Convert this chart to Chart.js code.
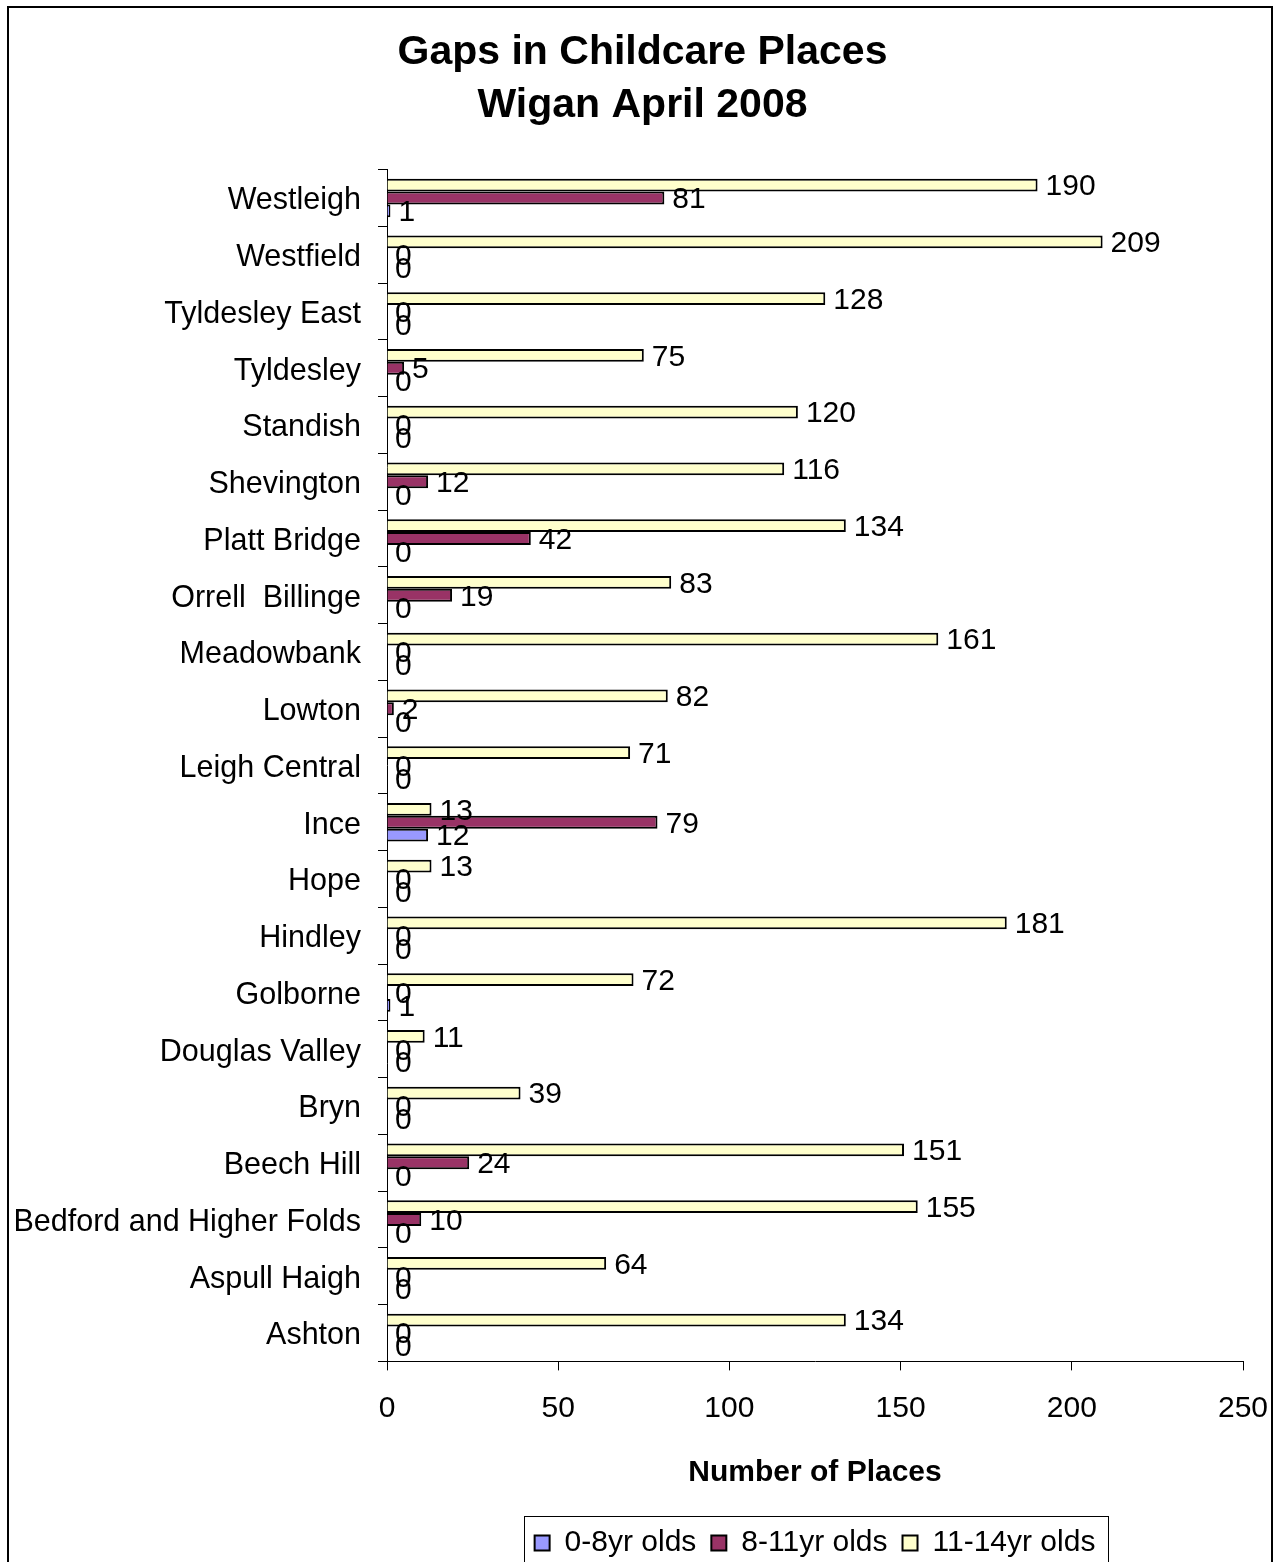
<!DOCTYPE html>
<html>
<head>
<meta charset="utf-8">
<title>Gaps in Childcare Places - Wigan April 2008</title>
<script src="https://cdn.jsdelivr.net/npm/chart.js@4.4.1/dist/chart.umd.min.js"></script>
<style>
  html, body { margin: 0; padding: 0; overflow: hidden; background: #fff; }
  #wrap { width: 1285px; height: 1583px; }
  canvas { display: block; }
</style>
</head>
<body>
<div id="wrap"><canvas id="chart" width="1285" height="1583"></canvas></div>
<script>
// Areas, listed top to bottom
const categories = [
  'Westleigh', 'Westfield', 'Tyldesley East', 'Tyldesley', 'Standish',
  'Shevington', 'Platt Bridge', 'Orrell  Billinge', 'Meadowbank', 'Lowton',
  'Leigh Central', 'Ince', 'Hope', 'Hindley', 'Golborne', 'Douglas Valley',
  'Bryn', 'Beech Hill', 'Bedford and Higher Folds', 'Aspull Haigh', 'Ashton'
];

// Gaps in places by age band
const places0to8 = [1, 0, 0, 0, 0, 0, 0, 0, 0, 0, 0, 12, 0, 0, 1, 0, 0, 0, 0, 0, 0];
const places8to11 = [81, 0, 0, 5, 0, 12, 42, 19, 0, 2, 0, 79, 0, 0, 0, 0, 0, 24, 10, 0, 0];
const places11to14 = [190, 209, 128, 75, 120, 116, 134, 83, 161, 82, 71, 13, 13, 181, 72, 11, 39, 151, 155, 64, 134];

const seriesNames = ['0-8yr olds', '8-11yr olds', '11-14yr olds'];
const xTickValues = [0, 50, 100, 150, 200, 250];

const FONT = '"Liberation Sans", Arial, Helvetica, sans-serif';
Chart.defaults.font.family = FONT;
Chart.defaults.color = '#000';

// White page with a thin black frame round the whole chart
const framePlugin = {
  id: 'frame',
  beforeDraw(chart) {
    const ctx = chart.ctx;
    ctx.save();
    ctx.fillStyle = '#fff';
    ctx.fillRect(0, 0, chart.width, chart.height);
    ctx.restore();
  },
  afterDraw(chart) {
    const ctx = chart.ctx;
    ctx.save();
    ctx.strokeStyle = '#000';
    ctx.lineWidth = 2;
    ctx.strokeRect(8, 7, 1264, chart.height + 20);
    // box round the legend
    const lg = chart.legend;
    if (lg && lg.legendHitBoxes && lg.legendHitBoxes.length) {
      const boxes = lg.legendHitBoxes;
      const left = Math.min(...boxes.map(b => b.left)) - 11;
      const right = Math.max(...boxes.map(b => b.left + b.width)) + 12;
      ctx.lineWidth = 1;
      ctx.strokeStyle = '#000';
      ctx.strokeRect(Math.round(left) + 0.5, Math.round(lg.top + 3) + 0.5, Math.round(right - left), 80);
    }
    ctx.restore();
  }
};

// Value written just past the end of each bar
const valueLabelPlugin = {
  id: 'valueLabels',
  afterDatasetsDraw(chart) {
    const ctx = chart.ctx;
    ctx.save();
    ctx.font = '30px ' + FONT;
    ctx.fillStyle = '#000';
    ctx.textAlign = 'left';
    ctx.textBaseline = 'middle';
    chart.data.datasets.forEach((ds, di) => {
      const meta = chart.getDatasetMeta(di);
      if (meta.hidden) return;
      meta.data.forEach((bar, i) => {
        ctx.fillText(String(ds.data[i]), bar.x + 8, bar.y + 2);
      });
    });
    ctx.restore();
  }
};

new Chart(document.getElementById('chart'), {
  type: 'bar',
  data: {
    labels: categories,
    datasets: [
      { label: seriesNames[2], data: places11to14, backgroundColor: '#FFFFCC', borderColor: '#000', borderWidth: 2 },
      { label: seriesNames[1], data: places8to11, backgroundColor: '#993366', borderColor: '#000', borderWidth: 2 },
      { label: seriesNames[0], data: places0to8, backgroundColor: '#9999FF', borderColor: '#000', borderWidth: 2 }
    ]
  },
  options: {
    indexAxis: 'y',
    responsive: false,
    animation: false,
    categoryPercentage: 0.68,
    barPercentage: 1.0,
    layout: { padding: { left: 0, right: 0, top: 0, bottom: 15 } },
    scales: {
      x: {
        min: 0,
        max: 250,
        afterBuildTicks: (scale) => { scale.ticks = xTickValues.map(v => ({ value: v })); },
        ticks: { color: '#000', font: { size: 30, lineHeight: '70px' }, padding: 3 },
        grid: { drawOnChartArea: false, drawTicks: true, tickLength: 9, color: '#000', lineWidth: 1 },
        border: { color: '#000', width: 1 },
        title: {
          display: true,
          text: 'Number of Places',
          color: '#000',
          font: { size: 30, weight: 'bold' },
          padding: { top: 0, bottom: 22 }
        },
        afterFit: (scale) => { scale.height = 151.6; }
      },
      y: {
        ticks: { color: '#000', font: { size: 30.5 }, padding: 17, labelOffset: 3 },
        grid: { drawOnChartArea: false, drawTicks: true, tickLength: 9, color: '#000', lineWidth: 1, offset: true },
        border: { color: '#000', width: 1 },
        afterFit: (scale) => { scale.width = 387; }
      },
      // empty margin on the right of the plot
      yMargin: {
        type: 'category',
        axis: 'y',
        position: 'right',
        display: true,
        labels: [''],
        ticks: { display: false },
        grid: { display: false, drawTicks: false },
        border: { display: false },
        afterFit: (scale) => { scale.width = 42; }
      }
    },
    plugins: {
      title: {
        display: true,
        text: ['Gaps in Childcare Places', 'Wigan April 2008'],
        color: '#000',
        font: { size: 41, weight: 'bold', lineHeight: 1.3 },
        padding: { top: 26, bottom: 37 }
      },
      legend: {
        position: 'bottom',
        fullSize: false,
        reverse: true,
        labels: {
          color: '#000',
          font: { size: 30 },
          boxWidth: 15,
          boxHeight: 15,
          padding: 15
        }
      },
      tooltip: { enabled: false }
    }
  },
  plugins: [framePlugin, valueLabelPlugin]
});
</script>
</body>
</html>
